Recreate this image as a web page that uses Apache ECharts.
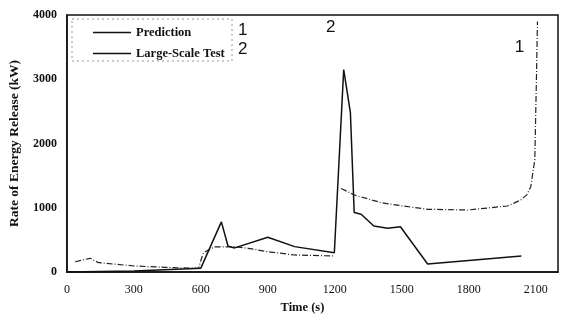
<!DOCTYPE html>
<html>
<head>
<meta charset="utf-8">
<script src="https://cdn.jsdelivr.net/npm/echarts@6/dist/echarts.min.js"></script>
<style>html,body{margin:0;padding:0;background:#fff}#c{width:565px;height:324px}</style>
</head>
<body>
<div id="c"></div>
<script>
// Series names
var seriesNames = ['Prediction', 'Large-Scale Test'];
// Large-Scale Test (curve 2)
var timeTest = [0, 300, 600, 692, 722, 752, 900, 1020, 1198, 1240, 1270, 1287, 1318, 1375, 1437, 1494, 1616, 2036];
var valTest  = [0, 15, 60, 780, 400, 375, 540, 395, 300, 3150, 2480, 925, 900, 715, 680, 705, 125, 250];
// Prediction (curve 1); null marks a break in the line
var timePred = [37, 104, 142, 305, 439, 590, 600, 612, 660, 752, 812, 900, 1020, 1199, 1214, 1229, 1288, 1408, 1500, 1616, 1795, 1974, 2033, 2060, 2078, 2096, 2103, 2108];
var valPred  = [160, 213, 145, 93, 73, 57, 180, 300, 390, 394, 369, 316, 265, 249, null, 1300, 1198, 1079, 1030, 976, 965, 1027, 1121, 1200, 1328, 1743, 2937, 3900];
// Axis ticks
var xMin = 0, xMax = 2200, xStep = 300;
var yMin = 0, yMax = 4000, yStep = 1000;
var curveTags = ['1', '2'];

function pairs(ts, vs) {
  return ts.map(function (t, i) { return [t, vs[i] === null ? '-' : vs[i]]; });
}
function plain(v) { return String(v); }

var serif = 'Liberation Serif';
var chart = echarts.init(document.getElementById('c'), null, {renderer: 'canvas'});
chart.setOption({
  animation: false,
  backgroundColor: '#fff',
  grid: {left: 66, right: 7, top: 15, bottom: 52, show: true, borderColor: '#111', borderWidth: 1.5, backgroundColor: 'transparent'},
  legend: {
    show: true,
    orient: 'vertical', left: 88, top: 21, icon: 'rect', itemWidth: 38, itemHeight: 1.5, itemGap: 8,
    data: seriesNames,
    itemStyle: {color: '#111'},
    textStyle: {fontFamily: serif, fontSize: 12.5, fontWeight: 'bold', color: '#111'}
  },
  graphic: [
    {type: 'rect', shape: {x: 72, y: 19, width: 160, height: 42}, style: {fill: 'none', stroke: '#999', lineWidth: 1, lineDash: [2, 3]}, silent: true, z: 0},
    {type: 'text', left: 238, top: 22, style: {text: curveTags[0], font: '17px Liberation Sans', fill: '#111'}},
    {type: 'text', left: 238, top: 41, style: {text: curveTags[1], font: '17px Liberation Sans', fill: '#111'}}
  ],
  xAxis: {
    type: 'value', min: xMin, max: xMax, interval: xStep,
    name: 'Time (s)', nameLocation: 'middle', nameGap: 24,
    nameTextStyle: {fontFamily: serif, fontSize: 12.5, fontWeight: 'bold', color: '#111', padding: [0, 20, 0, 0]},
    axisLine: {show: true, onZero: false, lineStyle: {color: '#111', width: 1.5}},
    axisTick: {show: false},
    splitLine: {show: false},
    axisLabel: {showMaxLabel: false, margin: 12, formatter: plain, fontFamily: serif, fontSize: 12, color: '#111'}
  },
  yAxis: {
    type: 'value', min: yMin, max: yMax, interval: yStep,
    name: 'Rate of Energy Release (kW)', nameLocation: 'middle', nameGap: 43,
    nameTextStyle: {fontFamily: serif, fontSize: 13.5, fontWeight: 'bold', color: '#111'},
    axisLine: {show: true, lineStyle: {color: '#111', width: 1.5}},
    axisTick: {show: false},
    splitLine: {show: false},
    axisLabel: {margin: 10, formatter: plain, fontFamily: serif, fontSize: 12, fontWeight: 'bold', color: '#111'}
  },
  series: [
    {
      name: seriesNames[0], type: 'line', showSymbol: false, connectNulls: false,
      data: pairs(timePred, valPred),
      lineStyle: {color: '#222', width: 1.2, type: [6, 2, 1, 2]},
      itemStyle: {color: '#111'},
      markPoint: {
        symbol: 'circle', symbolSize: 1, itemStyle: {color: 'transparent'},
        label: {show: true, formatter: curveTags[0], offset: [-18, 26], fontFamily: 'Liberation Sans', fontSize: 17, color: '#111'},
        data: [{type: 'max'}]
      }
    },
    {
      name: seriesNames[1], type: 'line', showSymbol: false,
      data: pairs(timeTest, valTest),
      lineStyle: {color: '#111', width: 1.5},
      itemStyle: {color: '#111'},
      markPoint: {
        symbol: 'circle', symbolSize: 1, itemStyle: {color: 'transparent'},
        label: {show: true, formatter: curveTags[1], offset: [-13, -42], fontFamily: 'Liberation Sans', fontSize: 17, color: '#111'},
        data: [{type: 'max'}]
      }
    }
  ]
});
</script>
</body>
</html>
